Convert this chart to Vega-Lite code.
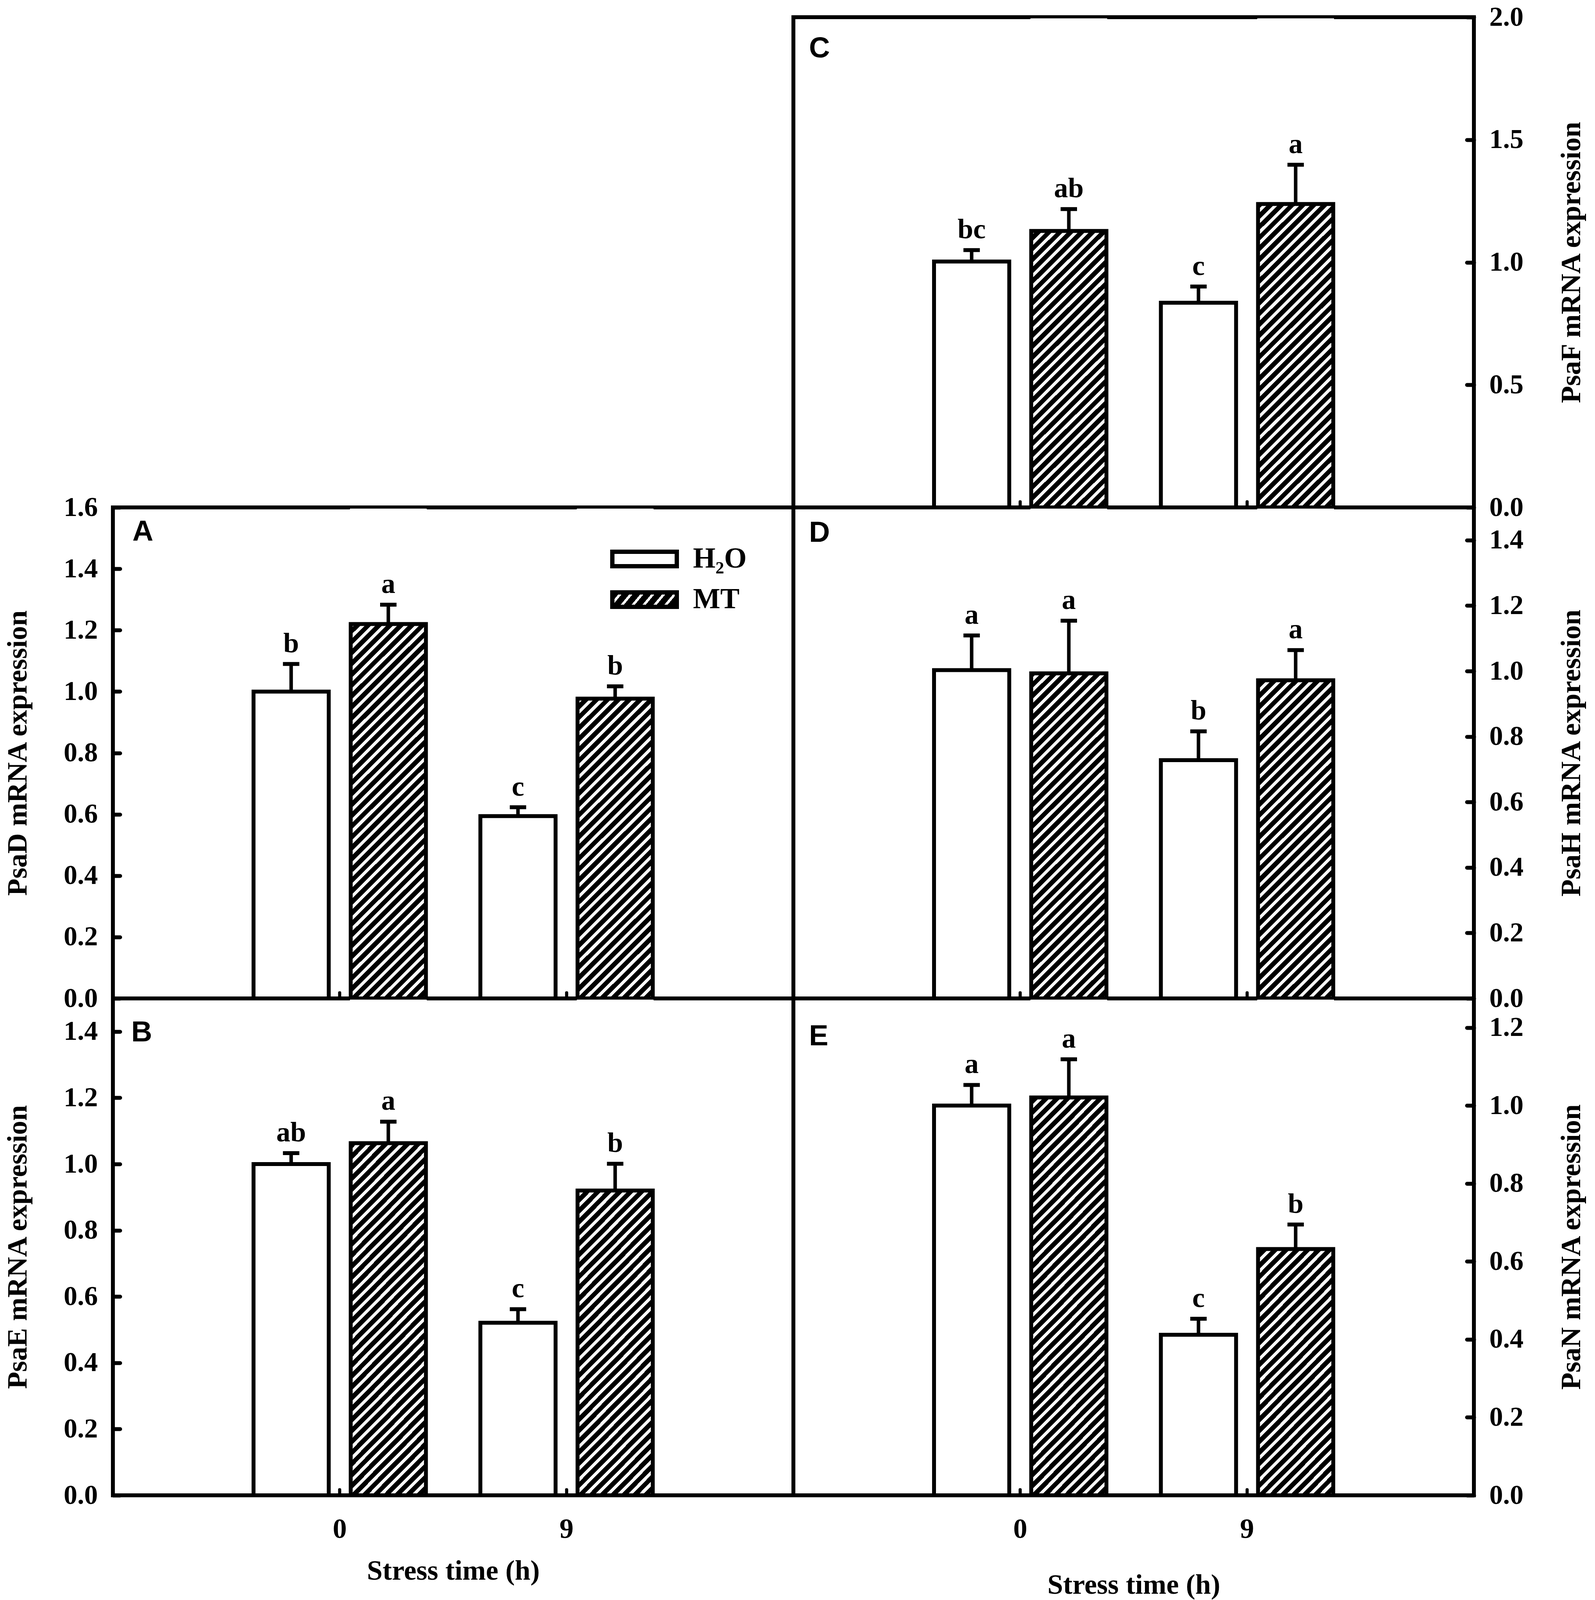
{
  "$schema": "https://vega.github.io/schema/vega-lite/v6.json",
  "background": "white",
  "padding": {"left": 4, "top": 4, "right": 4, "bottom": 4},
  "params": [
    {
      "name": "hatch",
      "value": {
        "gradient": "linear", "x1": 0, "y1": 0, "x2": 0.173, "y2": 1.127,
        "stops": [
          {"offset": 0, "color": "black"}, {"offset": 0.01154, "color": "black"}, {"offset": 0.01154, "color": "white"}, {"offset": 0.01923, "color": "white"},
          {"offset": 0.01923, "color": "black"}, {"offset": 0.03077, "color": "black"}, {"offset": 0.03077, "color": "white"}, {"offset": 0.03846, "color": "white"},
          {"offset": 0.03846, "color": "black"}, {"offset": 0.05, "color": "black"}, {"offset": 0.05, "color": "white"}, {"offset": 0.05769, "color": "white"},
          {"offset": 0.05769, "color": "black"}, {"offset": 0.06923, "color": "black"}, {"offset": 0.06923, "color": "white"}, {"offset": 0.07692, "color": "white"},
          {"offset": 0.07692, "color": "black"}, {"offset": 0.08846, "color": "black"}, {"offset": 0.08846, "color": "white"}, {"offset": 0.09615, "color": "white"},
          {"offset": 0.09615, "color": "black"}, {"offset": 0.10769, "color": "black"}, {"offset": 0.10769, "color": "white"}, {"offset": 0.11538, "color": "white"},
          {"offset": 0.11538, "color": "black"}, {"offset": 0.12692, "color": "black"}, {"offset": 0.12692, "color": "white"}, {"offset": 0.13462, "color": "white"},
          {"offset": 0.13462, "color": "black"}, {"offset": 0.14615, "color": "black"}, {"offset": 0.14615, "color": "white"}, {"offset": 0.15385, "color": "white"},
          {"offset": 0.15385, "color": "black"}, {"offset": 0.16538, "color": "black"}, {"offset": 0.16538, "color": "white"}, {"offset": 0.17308, "color": "white"},
          {"offset": 0.17308, "color": "black"}, {"offset": 0.18462, "color": "black"}, {"offset": 0.18462, "color": "white"}, {"offset": 0.19231, "color": "white"},
          {"offset": 0.19231, "color": "black"}, {"offset": 0.20385, "color": "black"}, {"offset": 0.20385, "color": "white"}, {"offset": 0.21154, "color": "white"},
          {"offset": 0.21154, "color": "black"}, {"offset": 0.22308, "color": "black"}, {"offset": 0.22308, "color": "white"}, {"offset": 0.23077, "color": "white"},
          {"offset": 0.23077, "color": "black"}, {"offset": 0.24231, "color": "black"}, {"offset": 0.24231, "color": "white"}, {"offset": 0.25, "color": "white"},
          {"offset": 0.25, "color": "black"}, {"offset": 0.26154, "color": "black"}, {"offset": 0.26154, "color": "white"}, {"offset": 0.26923, "color": "white"},
          {"offset": 0.26923, "color": "black"}, {"offset": 0.28077, "color": "black"}, {"offset": 0.28077, "color": "white"}, {"offset": 0.28846, "color": "white"},
          {"offset": 0.28846, "color": "black"}, {"offset": 0.3, "color": "black"}, {"offset": 0.3, "color": "white"}, {"offset": 0.30769, "color": "white"},
          {"offset": 0.30769, "color": "black"}, {"offset": 0.31923, "color": "black"}, {"offset": 0.31923, "color": "white"}, {"offset": 0.32692, "color": "white"},
          {"offset": 0.32692, "color": "black"}, {"offset": 0.33846, "color": "black"}, {"offset": 0.33846, "color": "white"}, {"offset": 0.34615, "color": "white"},
          {"offset": 0.34615, "color": "black"}, {"offset": 0.35769, "color": "black"}, {"offset": 0.35769, "color": "white"}, {"offset": 0.36538, "color": "white"},
          {"offset": 0.36538, "color": "black"}, {"offset": 0.37692, "color": "black"}, {"offset": 0.37692, "color": "white"}, {"offset": 0.38462, "color": "white"},
          {"offset": 0.38462, "color": "black"}, {"offset": 0.39615, "color": "black"}, {"offset": 0.39615, "color": "white"}, {"offset": 0.40385, "color": "white"},
          {"offset": 0.40385, "color": "black"}, {"offset": 0.41538, "color": "black"}, {"offset": 0.41538, "color": "white"}, {"offset": 0.42308, "color": "white"},
          {"offset": 0.42308, "color": "black"}, {"offset": 0.43462, "color": "black"}, {"offset": 0.43462, "color": "white"}, {"offset": 0.44231, "color": "white"},
          {"offset": 0.44231, "color": "black"}, {"offset": 0.45385, "color": "black"}, {"offset": 0.45385, "color": "white"}, {"offset": 0.46154, "color": "white"},
          {"offset": 0.46154, "color": "black"}, {"offset": 0.47308, "color": "black"}, {"offset": 0.47308, "color": "white"}, {"offset": 0.48077, "color": "white"},
          {"offset": 0.48077, "color": "black"}, {"offset": 0.49231, "color": "black"}, {"offset": 0.49231, "color": "white"}, {"offset": 0.5, "color": "white"},
          {"offset": 0.5, "color": "black"}, {"offset": 0.51154, "color": "black"}, {"offset": 0.51154, "color": "white"}, {"offset": 0.51923, "color": "white"},
          {"offset": 0.51923, "color": "black"}, {"offset": 0.53077, "color": "black"}, {"offset": 0.53077, "color": "white"}, {"offset": 0.53846, "color": "white"},
          {"offset": 0.53846, "color": "black"}, {"offset": 0.55, "color": "black"}, {"offset": 0.55, "color": "white"}, {"offset": 0.55769, "color": "white"},
          {"offset": 0.55769, "color": "black"}, {"offset": 0.56923, "color": "black"}, {"offset": 0.56923, "color": "white"}, {"offset": 0.57692, "color": "white"},
          {"offset": 0.57692, "color": "black"}, {"offset": 0.58846, "color": "black"}, {"offset": 0.58846, "color": "white"}, {"offset": 0.59615, "color": "white"},
          {"offset": 0.59615, "color": "black"}, {"offset": 0.60769, "color": "black"}, {"offset": 0.60769, "color": "white"}, {"offset": 0.61538, "color": "white"},
          {"offset": 0.61538, "color": "black"}, {"offset": 0.62692, "color": "black"}, {"offset": 0.62692, "color": "white"}, {"offset": 0.63462, "color": "white"},
          {"offset": 0.63462, "color": "black"}, {"offset": 0.64615, "color": "black"}, {"offset": 0.64615, "color": "white"}, {"offset": 0.65385, "color": "white"},
          {"offset": 0.65385, "color": "black"}, {"offset": 0.66538, "color": "black"}, {"offset": 0.66538, "color": "white"}, {"offset": 0.67308, "color": "white"},
          {"offset": 0.67308, "color": "black"}, {"offset": 0.68462, "color": "black"}, {"offset": 0.68462, "color": "white"}, {"offset": 0.69231, "color": "white"},
          {"offset": 0.69231, "color": "black"}, {"offset": 0.70385, "color": "black"}, {"offset": 0.70385, "color": "white"}, {"offset": 0.71154, "color": "white"},
          {"offset": 0.71154, "color": "black"}, {"offset": 0.72308, "color": "black"}, {"offset": 0.72308, "color": "white"}, {"offset": 0.73077, "color": "white"},
          {"offset": 0.73077, "color": "black"}, {"offset": 0.74231, "color": "black"}, {"offset": 0.74231, "color": "white"}, {"offset": 0.75, "color": "white"},
          {"offset": 0.75, "color": "black"}, {"offset": 0.76154, "color": "black"}, {"offset": 0.76154, "color": "white"}, {"offset": 0.76923, "color": "white"},
          {"offset": 0.76923, "color": "black"}, {"offset": 0.78077, "color": "black"}, {"offset": 0.78077, "color": "white"}, {"offset": 0.78846, "color": "white"},
          {"offset": 0.78846, "color": "black"}, {"offset": 0.8, "color": "black"}, {"offset": 0.8, "color": "white"}, {"offset": 0.80769, "color": "white"},
          {"offset": 0.80769, "color": "black"}, {"offset": 0.81923, "color": "black"}, {"offset": 0.81923, "color": "white"}, {"offset": 0.82692, "color": "white"},
          {"offset": 0.82692, "color": "black"}, {"offset": 0.83846, "color": "black"}, {"offset": 0.83846, "color": "white"}, {"offset": 0.84615, "color": "white"},
          {"offset": 0.84615, "color": "black"}, {"offset": 0.85769, "color": "black"}, {"offset": 0.85769, "color": "white"}, {"offset": 0.86538, "color": "white"},
          {"offset": 0.86538, "color": "black"}, {"offset": 0.87692, "color": "black"}, {"offset": 0.87692, "color": "white"}, {"offset": 0.88462, "color": "white"},
          {"offset": 0.88462, "color": "black"}, {"offset": 0.89615, "color": "black"}, {"offset": 0.89615, "color": "white"}, {"offset": 0.90385, "color": "white"},
          {"offset": 0.90385, "color": "black"}, {"offset": 0.91538, "color": "black"}, {"offset": 0.91538, "color": "white"}, {"offset": 0.92308, "color": "white"},
          {"offset": 0.92308, "color": "black"}, {"offset": 0.93462, "color": "black"}, {"offset": 0.93462, "color": "white"}, {"offset": 0.94231, "color": "white"},
          {"offset": 0.94231, "color": "black"}, {"offset": 0.95385, "color": "black"}, {"offset": 0.95385, "color": "white"}, {"offset": 0.96154, "color": "white"},
          {"offset": 0.96154, "color": "black"}, {"offset": 0.97308, "color": "black"}, {"offset": 0.97308, "color": "white"}, {"offset": 0.98077, "color": "white"},
          {"offset": 0.98077, "color": "black"}, {"offset": 0.99231, "color": "black"}, {"offset": 0.99231, "color": "white"}, {"offset": 1, "color": "white"}
        ]
      }
    },
    {
      "name": "legendHatch",
      "value": {
        "gradient": "linear", "x1": 0, "y1": 0, "x2": 1.147, "y2": 0.215,
        "stops": [
          {"offset": 0, "color": "black"}, {"offset": 0.1, "color": "black"}, {"offset": 0.1, "color": "white"}, {"offset": 0.14286, "color": "white"},
          {"offset": 0.14286, "color": "black"}, {"offset": 0.24286, "color": "black"}, {"offset": 0.24286, "color": "white"}, {"offset": 0.28571, "color": "white"},
          {"offset": 0.28571, "color": "black"}, {"offset": 0.38571, "color": "black"}, {"offset": 0.38571, "color": "white"}, {"offset": 0.42857, "color": "white"},
          {"offset": 0.42857, "color": "black"}, {"offset": 0.52857, "color": "black"}, {"offset": 0.52857, "color": "white"}, {"offset": 0.57143, "color": "white"},
          {"offset": 0.57143, "color": "black"}, {"offset": 0.67143, "color": "black"}, {"offset": 0.67143, "color": "white"}, {"offset": 0.71429, "color": "white"},
          {"offset": 0.71429, "color": "black"}, {"offset": 0.81429, "color": "black"}, {"offset": 0.81429, "color": "white"}, {"offset": 0.85714, "color": "white"},
          {"offset": 0.85714, "color": "black"}, {"offset": 0.95714, "color": "black"}, {"offset": 0.95714, "color": "white"}, {"offset": 1, "color": "white"}
        ]
      }
    }
  ],
  "datasets": {
    "expr": [
      {"gene": "PsaD", "time": "0", "trt": "H₂O", "mean": 1.0, "upper": 1.09, "letter": "b"},
      {"gene": "PsaD", "time": "0", "trt": "MT", "mean": 1.22, "upper": 1.283, "letter": "a"},
      {"gene": "PsaD", "time": "9", "trt": "H₂O", "mean": 0.594, "upper": 0.623, "letter": "c"},
      {"gene": "PsaD", "time": "9", "trt": "MT", "mean": 0.977, "upper": 1.017, "letter": "b"},
      {"gene": "PsaE", "time": "0", "trt": "H₂O", "mean": 1.0, "upper": 1.033, "letter": "ab"},
      {"gene": "PsaE", "time": "0", "trt": "MT", "mean": 1.063, "upper": 1.128, "letter": "a"},
      {"gene": "PsaE", "time": "9", "trt": "H₂O", "mean": 0.521, "upper": 0.562, "letter": "c"},
      {"gene": "PsaE", "time": "9", "trt": "MT", "mean": 0.92, "upper": 1.001, "letter": "b"},
      {"gene": "PsaF", "time": "0", "trt": "H₂O", "mean": 1.003, "upper": 1.05, "letter": "bc"},
      {"gene": "PsaF", "time": "0", "trt": "MT", "mean": 1.128, "upper": 1.217, "letter": "ab"},
      {"gene": "PsaF", "time": "9", "trt": "H₂O", "mean": 0.835, "upper": 0.901, "letter": "c"},
      {"gene": "PsaF", "time": "9", "trt": "MT", "mean": 1.238, "upper": 1.398, "letter": "a"},
      {"gene": "PsaH", "time": "0", "trt": "H₂O", "mean": 1.003, "upper": 1.109, "letter": "a"},
      {"gene": "PsaH", "time": "0", "trt": "MT", "mean": 0.993, "upper": 1.154, "letter": "a"},
      {"gene": "PsaH", "time": "9", "trt": "H₂O", "mean": 0.728, "upper": 0.816, "letter": "b"},
      {"gene": "PsaH", "time": "9", "trt": "MT", "mean": 0.972, "upper": 1.064, "letter": "a"},
      {"gene": "PsaN", "time": "0", "trt": "H₂O", "mean": 1.0, "upper": 1.053, "letter": "a"},
      {"gene": "PsaN", "time": "0", "trt": "MT", "mean": 1.021, "upper": 1.119, "letter": "a"},
      {"gene": "PsaN", "time": "9", "trt": "H₂O", "mean": 0.412, "upper": 0.453, "letter": "c"},
      {"gene": "PsaN", "time": "9", "trt": "MT", "mean": 0.632, "upper": 0.695, "letter": "b"}
    ]
  },
  "columns": 2,
  "spacing": 0,
  "bounds": "flush",
  "align": "each",
  "concat": [
    {
      "width": 1742, "height": 1255,
      "view": {"stroke": null},
      "data": {"values": []},
      "mark": "point"
    },
    {
      "width": 1742, "height": 1255,
      "title": {"text": "C", "dx": 40, "offset": -154},
      "data": {"name": "expr"},
      "transform": [{"filter": "datum.gene === 'PsaF'"}],
      "encoding": {
        "x": {"field": "time", "type": "nominal", "scale": {"domain": ["0", "9"], "paddingInner": 0.24, "paddingOuter": 0.62}, "axis": {"labels": false, "title": null}},
        "xOffset": {"field": "trt", "type": "nominal", "scale": {"domain": ["H₂O", "MT"], "paddingInner": 0.226, "paddingOuter": 0}}
      },
      "layer": [
        {
          "transform": [{"filter": "datum.trt === 'MT'"}],
          "mark": {"type": "bar", "fill": {"expr": "hatch"}, "strokeWidth": 0},
          "encoding": {
            "y": {"datum": 0, "type": "quantitative", "scale": {"domain": [0, 2], "nice": false},
                  "axis": {"orient": "right", "values": [0, 0.5, 1, 1.5, 2], "format": ".1f", "title": "PsaF mRNA expression", "titleAngle": 270, "titlePadding": 160}},
            "y2": {"datum": 1.992}
          }
        },
        {
          "transform": [{"filter": "datum.trt === 'MT'"}],
          "mark": {"type": "bar", "fill": "white", "stroke": "white", "strokeWidth": 4},
          "encoding": {"y": {"field": "mean", "type": "quantitative"}, "y2": {"datum": 1.992}}
        },
        {
          "mark": {"type": "bar", "stroke": "black", "strokeWidth": 10},
          "encoding": {
            "y": {"field": "mean", "type": "quantitative", "stack": null},
            "fill": {"condition": {"test": "datum.trt === 'MT'", "value": "transparent"}, "value": "white"}
          }
        },
        {
          "mark": {"type": "rule", "strokeWidth": 9, "color": "black"},
          "encoding": {"y": {"field": "mean", "type": "quantitative"}, "y2": {"field": "upper"}}
        },
        {
          "mark": {"type": "tick", "thickness": 10, "size": 42, "color": "black", "opacity": 1},
          "encoding": {"y": {"field": "upper", "type": "quantitative"}}
        },
        {
          "mark": {"type": "text", "dy": -30, "baseline": "alphabetic", "font": "Liberation Serif", "fontSize": 72, "fontWeight": "bold", "color": "black"},
          "encoding": {"y": {"field": "upper", "type": "quantitative"}, "text": {"field": "letter"}}
        }
      ]
    },
    {
      "width": 1742, "height": 1257,
      "title": {"text": "A", "dx": 50, "offset": -136},
      "data": {"name": "expr"},
      "transform": [{"filter": "datum.gene === 'PsaD'"}],
      "encoding": {
        "x": {"field": "time", "type": "nominal", "scale": {"domain": ["0", "9"], "paddingInner": 0.24, "paddingOuter": 0.62}, "axis": {"labels": false, "title": null}},
        "xOffset": {"field": "trt", "type": "nominal", "scale": {"domain": ["H₂O", "MT"], "paddingInner": 0.226, "paddingOuter": 0}}
      },
      "layer": [
        {
          "transform": [{"filter": "datum.trt === 'MT'"}],
          "mark": {"type": "bar", "fill": {"expr": "hatch"}, "strokeWidth": 0},
          "encoding": {
            "y": {"datum": 0, "type": "quantitative", "scale": {"domain": [0, 1.6], "nice": false},
                  "axis": {"orient": "left", "values": [0, 0.2, 0.4, 0.6, 0.8, 1, 1.2, 1.4, 1.6], "format": ".1f", "title": "PsaD mRNA expression", "titlePadding": 80}},
            "y2": {"datum": 1.5936}
          }
        },
        {
          "transform": [{"filter": "datum.trt === 'MT'"}],
          "mark": {"type": "bar", "fill": "white", "stroke": "white", "strokeWidth": 4},
          "encoding": {"y": {"field": "mean", "type": "quantitative"}, "y2": {"datum": 1.5936}}
        },
        {
          "mark": {"type": "bar", "stroke": "black", "strokeWidth": 10},
          "encoding": {
            "y": {"field": "mean", "type": "quantitative", "stack": null},
            "fill": {"condition": {"test": "datum.trt === 'MT'", "value": "transparent"}, "value": "white"}
          }
        },
        {
          "mark": {"type": "bar", "strokeWidth": 0},
          "encoding": {
            "y": {"datum": 0, "type": "quantitative"},
            "y2": {"datum": 0},
            "fill": {
              "field": "trt", "type": "nominal",
              "scale": {"domain": ["H₂O", "MT"], "range": ["white", {"expr": "legendHatch"}]},
              "legend": {
                "title": null, "orient": "none", "legendX": 1273, "legendY": 80, "padding": 0,
                "symbolType": "M-1,-0.224H1V0.224H-1Z", "symbolSize": 27225,
                "symbolStrokeColor": "black", "symbolStrokeWidth": 11, "symbolOpacity": 1,
                "labelFont": "Liberation Serif", "labelFontWeight": "bold", "labelFontSize": 74, "labelColor": "black",
                "labelOffset": 36, "rowPadding": 0, "clipHeight": 104
              }
            }
          }
        },
        {
          "mark": {"type": "rule", "strokeWidth": 9, "color": "black"},
          "encoding": {"y": {"field": "mean", "type": "quantitative"}, "y2": {"field": "upper"}}
        },
        {
          "mark": {"type": "tick", "thickness": 10, "size": 42, "color": "black", "opacity": 1},
          "encoding": {"y": {"field": "upper", "type": "quantitative"}}
        },
        {
          "mark": {"type": "text", "dy": -30, "baseline": "alphabetic", "font": "Liberation Serif", "fontSize": 72, "fontWeight": "bold", "color": "black"},
          "encoding": {"y": {"field": "upper", "type": "quantitative"}, "text": {"field": "letter"}}
        }
      ]
    },
    {
      "width": 1742, "height": 1257,
      "title": {"text": "D", "dx": 40, "offset": -104},
      "data": {"name": "expr"},
      "transform": [{"filter": "datum.gene === 'PsaH'"}],
      "encoding": {
        "x": {"field": "time", "type": "nominal", "scale": {"domain": ["0", "9"], "paddingInner": 0.24, "paddingOuter": 0.62}, "axis": {"labels": false, "title": null}},
        "xOffset": {"field": "trt", "type": "nominal", "scale": {"domain": ["H₂O", "MT"], "paddingInner": 0.226, "paddingOuter": 0}}
      },
      "layer": [
        {
          "transform": [{"filter": "datum.trt === 'MT'"}],
          "mark": {"type": "bar", "fill": {"expr": "hatch"}, "strokeWidth": 0},
          "encoding": {
            "y": {"datum": 0, "type": "quantitative", "scale": {"domain": [0, 1.5], "nice": false},
                  "axis": {"orient": "right", "values": [0, 0.2, 0.4, 0.6, 0.8, 1, 1.2, 1.4], "format": ".1f", "title": "PsaH mRNA expression", "titleAngle": 270, "titlePadding": 160}},
            "y2": {"datum": 1.494}
          }
        },
        {
          "transform": [{"filter": "datum.trt === 'MT'"}],
          "mark": {"type": "bar", "fill": "white", "stroke": "white", "strokeWidth": 4},
          "encoding": {"y": {"field": "mean", "type": "quantitative"}, "y2": {"datum": 1.494}}
        },
        {
          "mark": {"type": "bar", "stroke": "black", "strokeWidth": 10},
          "encoding": {
            "y": {"field": "mean", "type": "quantitative", "stack": null},
            "fill": {"condition": {"test": "datum.trt === 'MT'", "value": "transparent"}, "value": "white"}
          }
        },
        {
          "mark": {"type": "rule", "strokeWidth": 9, "color": "black"},
          "encoding": {"y": {"field": "mean", "type": "quantitative"}, "y2": {"field": "upper"}}
        },
        {
          "mark": {"type": "tick", "thickness": 10, "size": 42, "color": "black", "opacity": 1},
          "encoding": {"y": {"field": "upper", "type": "quantitative"}}
        },
        {
          "mark": {"type": "text", "dy": -30, "baseline": "alphabetic", "font": "Liberation Serif", "fontSize": 72, "fontWeight": "bold", "color": "black"},
          "encoding": {"y": {"field": "upper", "type": "quantitative"}, "text": {"field": "letter"}}
        }
      ]
    },
    {
      "width": 1742, "height": 1272,
      "title": {"text": "B", "dx": 47, "offset": -126},
      "data": {"name": "expr"},
      "transform": [{"filter": "datum.gene === 'PsaE'"}],
      "encoding": {
        "x": {"field": "time", "type": "nominal", "scale": {"domain": ["0", "9"], "paddingInner": 0.24, "paddingOuter": 0.62}, "axis": {"title": "Stress time (h)", "titlePadding": 36}},
        "xOffset": {"field": "trt", "type": "nominal", "scale": {"domain": ["H₂O", "MT"], "paddingInner": 0.226, "paddingOuter": 0}}
      },
      "layer": [
        {
          "transform": [{"filter": "datum.trt === 'MT'"}],
          "mark": {"type": "bar", "fill": {"expr": "hatch"}, "strokeWidth": 0},
          "encoding": {
            "y": {"datum": 0, "type": "quantitative", "scale": {"domain": [0, 1.5], "nice": false},
                  "axis": {"orient": "left", "values": [0, 0.2, 0.4, 0.6, 0.8, 1, 1.2, 1.4], "format": ".1f", "title": "PsaE mRNA expression", "titlePadding": 80}},
            "y2": {"datum": 1.494}
          }
        },
        {
          "transform": [{"filter": "datum.trt === 'MT'"}],
          "mark": {"type": "bar", "fill": "white", "stroke": "white", "strokeWidth": 4},
          "encoding": {"y": {"field": "mean", "type": "quantitative"}, "y2": {"datum": 1.494}}
        },
        {
          "mark": {"type": "bar", "stroke": "black", "strokeWidth": 10},
          "encoding": {
            "y": {"field": "mean", "type": "quantitative", "stack": null},
            "fill": {"condition": {"test": "datum.trt === 'MT'", "value": "transparent"}, "value": "white"}
          }
        },
        {
          "mark": {"type": "rule", "strokeWidth": 9, "color": "black"},
          "encoding": {"y": {"field": "mean", "type": "quantitative"}, "y2": {"field": "upper"}}
        },
        {
          "mark": {"type": "tick", "thickness": 10, "size": 42, "color": "black", "opacity": 1},
          "encoding": {"y": {"field": "upper", "type": "quantitative"}}
        },
        {
          "mark": {"type": "text", "dy": -30, "baseline": "alphabetic", "font": "Liberation Serif", "fontSize": 72, "fontWeight": "bold", "color": "black"},
          "encoding": {"y": {"field": "upper", "type": "quantitative"}, "text": {"field": "letter"}}
        }
      ]
    },
    {
      "width": 1742, "height": 1272,
      "title": {"text": "E", "dx": 40, "offset": -136},
      "data": {"name": "expr"},
      "transform": [{"filter": "datum.gene === 'PsaN'"}],
      "encoding": {
        "x": {"field": "time", "type": "nominal", "scale": {"domain": ["0", "9"], "paddingInner": 0.24, "paddingOuter": 0.62}, "axis": {"title": "Stress time (h)", "titlePadding": 72}},
        "xOffset": {"field": "trt", "type": "nominal", "scale": {"domain": ["H₂O", "MT"], "paddingInner": 0.226, "paddingOuter": 0}}
      },
      "layer": [
        {
          "transform": [{"filter": "datum.trt === 'MT'"}],
          "mark": {"type": "bar", "fill": {"expr": "hatch"}, "strokeWidth": 0},
          "encoding": {
            "y": {"datum": 0, "type": "quantitative", "scale": {"domain": [0, 1.275], "nice": false},
                  "axis": {"orient": "right", "values": [0, 0.2, 0.4, 0.6, 0.8, 1, 1.2], "format": ".1f", "title": "PsaN mRNA expression", "titleAngle": 270, "titlePadding": 160}},
            "y2": {"datum": 1.27}
          }
        },
        {
          "transform": [{"filter": "datum.trt === 'MT'"}],
          "mark": {"type": "bar", "fill": "white", "stroke": "white", "strokeWidth": 4},
          "encoding": {"y": {"field": "mean", "type": "quantitative"}, "y2": {"datum": 1.27}}
        },
        {
          "mark": {"type": "bar", "stroke": "black", "strokeWidth": 10},
          "encoding": {
            "y": {"field": "mean", "type": "quantitative", "stack": null},
            "fill": {"condition": {"test": "datum.trt === 'MT'", "value": "transparent"}, "value": "white"}
          }
        },
        {
          "mark": {"type": "rule", "strokeWidth": 9, "color": "black"},
          "encoding": {"y": {"field": "mean", "type": "quantitative"}, "y2": {"field": "upper"}}
        },
        {
          "mark": {"type": "tick", "thickness": 10, "size": 42, "color": "black", "opacity": 1},
          "encoding": {"y": {"field": "upper", "type": "quantitative"}}
        },
        {
          "mark": {"type": "text", "dy": -30, "baseline": "alphabetic", "font": "Liberation Serif", "fontSize": 72, "fontWeight": "bold", "color": "black"},
          "encoding": {"y": {"field": "upper", "type": "quantitative"}, "text": {"field": "letter"}}
        }
      ]
    }
  ],
  "resolve": {
    "scale": {"x": "independent", "y": "independent", "xOffset": "independent", "fill": "independent"},
    "axis": {"x": "independent", "y": "independent"},
    "legend": {"fill": "independent"}
  },
  "config": {
    "font": "Liberation Serif",
    "view": {"stroke": "black", "strokeWidth": 10},
    "axis": {
      "domain": false, "grid": false, "ticks": true,
      "tickColor": "black", "tickWidth": 10, "tickCap": "round",
      "labelFont": "Liberation Serif", "labelFontWeight": "bold", "labelFontSize": 70, "labelColor": "black", "labelOverlap": false,
      "titleFont": "Liberation Serif", "titleFontWeight": "bold", "titleFontSize": 72, "titleColor": "black"
    },
    "axisX": {"tickSize": -15, "tickWidth": 8, "labelAngle": 0, "labelFontSize": 72, "labelPadding": 66},
    "axisY": {"tickSize": -18, "labelPadding": 57},
    "title": {"font": "Liberation Sans", "fontSize": 74, "fontWeight": "bold", "color": "black", "anchor": "start", "frame": "group", "baseline": "alphabetic"}
  }
}
